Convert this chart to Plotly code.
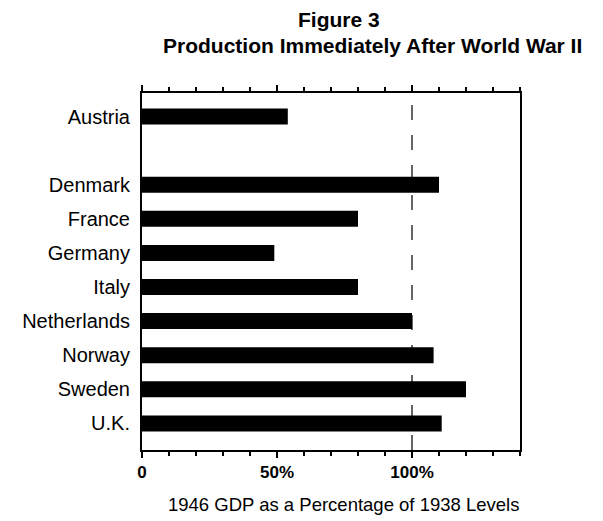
import plotly.graph_objects as go

categories = ["Austria", " ", "Denmark", "France", "Germany", "Italy",
              "Netherlands", "Norway", "Sweden", "U.K."]
gdp_pct = [54, None, 110, 80, 49, 80, 100, 108, 120, 111]
tick_vals = [0, 50, 100]
tick_text = ["0", "50%", "100%"]

sans = "Liberation Sans, Arial, Helvetica, sans-serif"

OFF = 8  # page body margin offset
W, H = 603, 521
PLOT_TOP, PLOT_BOTTOM, PLOT_LEFT, PLOT_RIGHT = 93 - OFF, 450 - OFF, 142 - OFF, 520 - OFF
plot_h = PLOT_BOTTOM - PLOT_TOP
plot_w = PLOT_RIGHT - PLOT_LEFT


def py(pix):
    return (PLOT_BOTTOM - (pix - OFF)) / plot_h


def px(pix):
    return ((pix - OFF) - PLOT_LEFT) / plot_w


fig = go.Figure()
fig.add_trace(go.Bar(
    x=gdp_pct, y=categories, orientation="h",
    marker=dict(color="black", line=dict(width=0)),
    width=0.47, hoverinfo="x+y",
))

fig.add_shape(type="line", xref="x", yref="paper", x0=100, x1=100, y0=0, y1=1,
              line=dict(color="black", width=1.2, dash="longdash"))

fig.update_layout(
    width=W, height=H,
    margin=dict(l=PLOT_LEFT, r=W - PLOT_RIGHT, t=PLOT_TOP, b=H - PLOT_BOTTOM),
    paper_bgcolor="white", plot_bgcolor="white",
    showlegend=False,
    annotations=[
        dict(text="<b>Figure 3</b>", xref="paper", yref="paper",
             x=px(339), y=py(19), xanchor="center", yanchor="middle", showarrow=False,
             font=dict(family=sans, size=21, color="black")),
        dict(text="<b>Production Immediately After World War II</b>", xref="paper", yref="paper",
             x=px(372), y=py(45), xanchor="center", yanchor="middle", showarrow=False,
             font=dict(family=sans, size=21, color="black")),
        dict(text="1946 GDP as a Percentage of 1938 Levels", xref="paper", yref="paper",
             x=px(343), y=py(505), xanchor="center", yanchor="middle", showarrow=False,
             font=dict(family=sans, size=18.5, color="black")),
    ],
    xaxis=dict(
        range=[0, 140], tickvals=tick_vals, ticktext=tick_text,
        ticks="outside", ticklen=6, tickwidth=2, tickcolor="black",
        minor=dict(dtick=10, ticks="outside", ticklen=4, tickwidth=2, tickcolor="black"),
        showline=True, linecolor="black", linewidth=2, mirror="ticks",
        showgrid=False, zeroline=False, automargin=False,
        tickfont=dict(family=sans, size=17, color="black", weight="bold"),
    ),
    yaxis=dict(
        type="category", categoryorder="array", categoryarray=categories,
        range=[9.78, -0.69],
        showline=True, linecolor="black", linewidth=2, mirror=True,
        ticks="", showgrid=False, zeroline=False, automargin=False,
        ticklabelstandoff=6,
        tickfont=dict(family=sans, size=20, color="black"),
    ),
)

fig.write_html("out.html")
